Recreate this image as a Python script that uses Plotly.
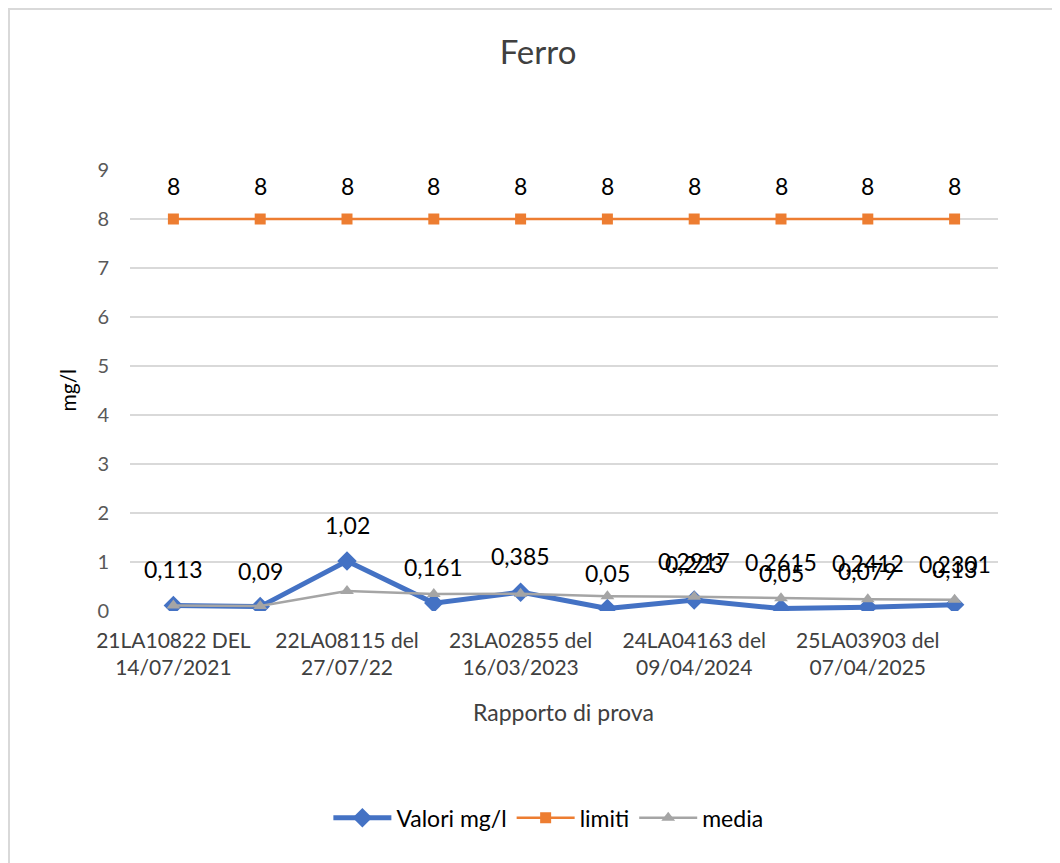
import plotly.graph_objects as go

categories = ["21LA10822 DEL<br>14/07/2021", "", "22LA08115 del<br>27/07/22", "",
              "23LA02855 del<br>16/03/2023", "", "24LA04163 del<br>09/04/2024", "",
              "25LA03903 del<br>07/04/2025", ""]
valori = [0.113, 0.09, 1.02, 0.161, 0.385, 0.05, 0.223, 0.05, 0.079, 0.13]
limiti = [8, 8, 8, 8, 8, 8, 8, 8, 8, 8]
media = [0.113, 0.1015, 0.4077, 0.346, 0.3538, 0.3032, 0.2917, 0.2615, 0.2412, 0.2301]
media_label_idx = [6, 7, 8, 9]
y_ticks = [0, 1, 2, 3, 4, 5, 6, 7, 8, 9]

FONT = "Lato, 'Open Sans', sans-serif"
x = list(range(len(valori)))

def fmt(v):
    return ("%g" % v).replace(".", ",")

fig = go.Figure()
fig.add_trace(go.Scatter(x=x, y=valori, name="Valori mg/l", mode="lines+markers",
                         line=dict(color="#4472C4", width=5),
                         marker=dict(symbol="diamond", size=15, color="#4472C4")))
fig.add_trace(go.Scatter(x=x, y=limiti, name="limiti", mode="lines+markers",
                         line=dict(color="#ED7D31", width=2.5),
                         marker=dict(symbol="square", size=11, color="#ED7D31")))
fig.add_trace(go.Scatter(x=x, y=media, name="media", mode="lines+markers",
                         line=dict(color="#A5A5A5", width=2.5),
                         marker=dict(symbol="triangle-up", size=12, color="#A5A5A5")))

LBL = dict(size=23, color="#000000", family=FONT)
annotations = []
for i in x:
    annotations.append(dict(x=i, y=valori[i], text=fmt(valori[i]), showarrow=False,
                            yshift=36, font=LBL))
    annotations.append(dict(x=i, y=limiti[i], text=fmt(limiti[i]), showarrow=False,
                            yshift=33, font=LBL))
for i in media_label_idx:
    annotations.append(dict(x=i, y=media[i], text=fmt(media[i]), showarrow=False,
                            yshift=36, font=LBL))

annotations.append(dict(x=0.499, y=-0.229, xref="paper", yref="paper", text="Rapporto di prova",
                        showarrow=False, yanchor="middle",
                        font=dict(size=23, color="#404040", family=FONT)))
annotations.append(dict(x=-0.072, y=0.501, xref="paper", yref="paper", text="mg/l",
                        showarrow=False, textangle=-90, xanchor="center", yanchor="middle",
                        font=dict(size=21, color="#000000", family=FONT)))

fig.update_layout(
    width=1060, height=863,
    paper_bgcolor="white", plot_bgcolor="white",
    margin=dict(l=122, r=70, t=162, b=260),
    title=dict(text="Ferro", x=0.5, xanchor="center", y=0.949, yanchor="middle",
               font=dict(size=33, color="#404040", family=FONT)),
    font=dict(family=FONT),
    showlegend=True,
    legend=dict(orientation="h", x=0.482, xanchor="center", y=-0.469, yanchor="middle",
                font=dict(size=23, color="#000000", family=FONT),
                itemwidth=58, traceorder="normal"),
    annotations=annotations,
)
fig.update_xaxes(range=[-0.5, 9.5], tickmode="array", tickvals=x, ticktext=categories,
                 showgrid=False, zeroline=False, showline=False, ticks="",
                 ticklabelstandoff=15,
                 tickfont=dict(size=21, color="#404040", family=FONT))
fig.update_yaxes(range=[0, 9], tickmode="array", tickvals=y_ticks,
                 showgrid=True, gridcolor="#D9D9D9", gridwidth=1.5, zeroline=False,
                 showline=False, ticks="", ticklabelstandoff=20,
                 tickfont=dict(size=20, color="#595959", family=FONT))
# chart-area border (top and left edges visible in the reference)
fig.add_shape(type="line", xref="paper", yref="paper", x0=-122 / 868, x1=1 + 70 / 868,
              y0=1 + 161 / 441, y1=1 + 161 / 441, line=dict(color="#D9D9D9", width=2))
fig.add_shape(type="line", xref="paper", yref="paper", x0=-121 / 868, x1=-121 / 868,
              y0=-260 / 441, y1=1 + 162 / 441, line=dict(color="#D9D9D9", width=2))
fig.write_html("out.html")
